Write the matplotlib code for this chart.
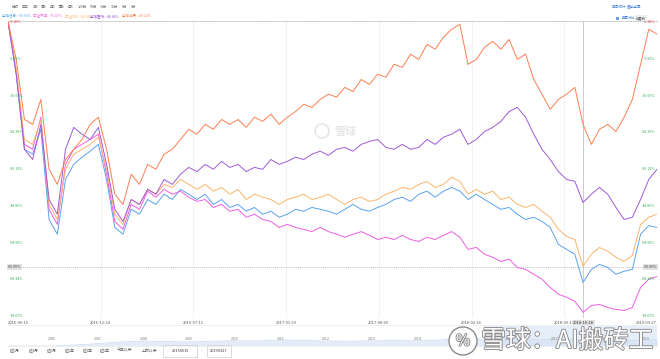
import numpy as np
import matplotlib
matplotlib.use("Agg")
import matplotlib.pyplot as plt
import matplotlib.patheffects as pe
from matplotlib.patches import Circle, Ellipse, Rectangle
from matplotlib.lines import Line2D

plt.rcParams['font.family'] = ['Noto Sans CJK SC', 'DejaVu Sans']

# --- data (cumulative change, %), ~weekly samples ---
names = ["全指信息", "中证传媒", "中证500", "全指医药", "全指消费"]
legend_vals = ["-69.93%", "-76.07%", "-64.44%", "-48.88%", "-28.22%"]
colors = ["#5aa2ee", "#ee5ee2", "#fcb46c", "#a05ad6", "#fc7e52"]

info = [0.0, -14.0, -33.9, -35.2, -28.6, -52.5, -56.4, -41.9, -37.9, -36.0,
        -34.4, -32.6, -41.9, -54.6, -56.4, -49.8, -51.1, -47.2, -48.5, -45.8,
        -47.2, -44.5, -45.8, -47.2, -45.8, -48.5, -47.2, -49.3, -48.5, -50.3,
        -49.3, -51.1, -50.3, -51.9, -51.1, -49.8, -50.3, -49.3, -49.8, -50.3,
        -51.1, -49.8, -48.5, -49.8, -50.3, -49.3, -48.5, -47.2, -46.6, -47.7,
        -45.8, -45.0, -46.6, -45.0, -44.0, -45.0, -47.2, -45.8, -47.2, -48.5,
        -49.8, -49.3, -51.1, -52.5, -51.9, -53.0, -54.6, -59.1, -60.4, -61.7,
        -69.2, -65.7, -64.4, -65.2, -67.0, -66.2, -65.7, -56.4, -54.1, -54.6]
media = [0.0, -13.3, -32.6, -33.9, -25.4, -49.8, -53.8, -37.9, -33.9, -32.6,
         -31.3, -29.9, -40.5, -53.0, -55.1, -48.5, -49.8, -45.0, -46.6, -44.5,
         -45.8, -45.0, -46.6, -47.7, -47.2, -49.3, -48.5, -50.3, -49.8, -51.9,
         -51.1, -52.5, -53.0, -54.6, -53.8, -54.6, -55.1, -55.7, -54.6, -55.7,
         -56.4, -57.2, -56.4, -55.7, -56.7, -57.8, -57.2, -57.8, -56.7, -57.8,
         -58.3, -57.2, -57.8, -56.7, -55.7, -57.2, -60.4, -59.9, -61.7, -62.5,
         -63.6, -63.0, -65.2, -65.7, -67.0, -68.3, -70.5, -72.3, -73.1, -74.2,
         -77.1, -75.3, -75.0, -75.8, -76.3, -76.6, -75.8, -70.5, -68.3, -67.6]
csi500 = [0.0, -12.7, -31.3, -32.6, -26.0, -48.5, -52.5, -39.2, -35.2, -33.9,
          -32.6, -30.7, -39.2, -51.1, -53.8, -47.2, -48.5, -44.5, -45.8, -43.2,
          -44.0, -41.9, -43.2, -44.5, -43.2, -45.0, -44.0, -45.8, -44.5, -47.2,
          -45.8, -46.6, -47.2, -48.5, -47.2, -46.6, -45.8, -47.2, -46.6, -45.8,
          -47.2, -48.5, -47.2, -46.6, -47.7, -47.2, -45.8, -45.0, -44.0, -44.5,
          -43.2, -42.4, -44.0, -43.2, -41.3, -42.4, -45.8, -44.5, -45.8, -45.0,
          -47.2, -46.6, -48.5, -49.3, -48.5, -50.3, -51.9, -55.1, -57.0, -57.8,
          -64.9, -61.7, -59.9, -60.9, -62.5, -63.6, -62.0, -53.8, -51.9, -51.1]
medic = [0.0, -14.0, -33.9, -36.6, -27.3, -47.2, -51.1, -33.9, -28.1, -29.9,
         -31.3, -28.1, -37.9, -49.8, -53.0, -47.2, -48.5, -44.5, -45.8, -41.9,
         -43.2, -40.5, -38.7, -39.8, -37.9, -39.2, -37.1, -38.7, -37.9, -39.8,
         -38.7, -39.2, -36.6, -37.9, -37.1, -36.0, -36.6, -35.2, -34.4, -35.5,
         -33.9, -33.4, -34.4, -32.6, -31.8, -31.3, -33.4, -33.9, -32.6, -33.9,
         -33.4, -31.3, -32.6, -30.7, -29.9, -28.6, -32.6, -31.3, -29.2, -28.1,
         -26.5, -23.9, -22.8, -25.4, -29.9, -33.9, -36.6, -39.8, -41.9, -42.4,
         -48.0, -45.8, -44.0, -45.8, -49.3, -52.5, -51.9, -47.2, -41.9, -39.2]
consum = [0.0, -10.1, -26.0, -27.3, -20.7, -39.2, -43.2, -36.6, -33.9, -31.3,
          -27.3, -25.4, -33.9, -45.8, -48.5, -40.5, -43.2, -37.9, -39.2, -35.2,
          -33.9, -31.3, -28.6, -29.9, -27.3, -28.6, -26.0, -27.3, -26.0, -28.1,
          -25.4, -26.5, -24.6, -27.3, -25.4, -23.9, -22.0, -22.8, -20.7, -19.3,
          -20.1, -17.5, -18.6, -15.4, -16.7, -14.0, -14.8, -11.4, -12.2, -8.7,
          -10.1, -6.1, -7.4, -4.2, -2.1, -0.8, -11.4, -10.1, -6.9, -5.3,
          -7.4, -4.8, -10.1, -8.7, -15.4, -19.3, -23.3, -20.7, -19.3, -17.5,
          -27.3, -32.6, -28.6, -27.3, -29.2, -25.4, -20.7, -11.4, -2.1, -3.4]
series = [info, media, csi500, medic, consum]

date_labels = ["2015-06-15", "2015-12-24", "2016-07-11", "2017-01-23",
               "2017-08-09", "2018-02-26", "2018-09-12", "2019-03-27"]
ytick_labels = ["-0.18%", "-9.92%", "-19.65%", "-29.39%", "-39.13%",
                "-48.86%", "-58.60%", "-68.34%", "-78.07%"]
ytick_vals = [-0.18, -9.92, -19.65, -29.39, -39.13, -48.86, -58.60, -68.34, -78.07]
cross_idx = 70
cross_val = -65.05
cross_date = "2018-10-18"

nav_years = [2005.0, 2005.5, 2006.0, 2006.5, 2007.0, 2007.5, 2008.0, 2008.5,
             2009.0, 2009.5, 2010.0, 2010.5, 2011.0, 2011.5, 2012.0, 2012.5,
             2013.0, 2013.5, 2014.0, 2014.5, 2015.0, 2015.5, 2016.0, 2016.5,
             2017.0, 2017.5, 2018.0, 2018.5, 2019.0, 2019.25]
nav_vals = [0.0, 0.0, 0.0, 0.05, 0.12, 0.2, 0.25, 0.22, 0.2, 0.24,
            0.26, 0.25, 0.3, 0.28, 0.25, 0.24, 0.26, 0.27, 0.26, 0.3,
            0.4, 0.33, 0.3, 0.31, 0.32, 0.3, 0.29, 0.27, 0.3, 0.32]
year_labels = list(range(2006, 2020))

top_tabs = ["分时", "五日", "日K", "周K", "月K", "季K", "年K",
            "120分", "60分", "30分", "15分", "5分", "1分"]
periods = ["近1月", "近3月", "近6月", "近1年", "近3年", "近5年", "今年以来", "上市以来"]
range_start, range_end = "20150615", "20190327"

# --- figure ---
W, H = 660, 359
fig = plt.figure(figsize=(6.6, 3.59), dpi=100)


def fx(px):
    return px / W


def fy(py):
    return 1 - py / H


ax = fig.add_axes([fx(8), fy(318), fx(657) - fx(8), fy(21) - fy(318)])
x = np.arange(len(info))
for s, c in zip(series, colors):
    ax.plot(x, s, color=c, lw=0.7)
ax.set_xlim(0, len(info) - 1)
ax.set_ylim(-78.59, 0.085)
ax.set_xticks([])
ax.set_yticks([])
for sp in ["left", "right", "bottom"]:
    ax.spines[sp].set_visible(False)
ax.spines["top"].set_linestyle((0, (1, 1.5)))
ax.spines["top"].set_color("#bbbbbb")
ax.spines["top"].set_linewidth(0.6)

# vertical grid + date labels
n = len(info) - 1
tr_x = ax.get_xaxis_transform()
for k, lab in enumerate(date_labels):
    xp = k * n / 7
    if 0 < k < 7:
        ax.axvline(xp, color="#f0f0f0", lw=0.6, zorder=0)
    ha = "left" if k == 0 else ("right" if k == 7 else "center")
    ax.text(xp, -0.01, lab, transform=tr_x, ha=ha, va="top",
            fontsize=2.9, color="#555555")

# y labels both sides
tr_y = ax.get_yaxis_transform()
for v, lab in zip(ytick_vals, ytick_labels):
    col = "#e64545" if v == ytick_vals[0] else "#35a853"
    ax.text(0.003, v, lab, transform=tr_y, ha="left", va="center",
            fontsize=2.6, color=col)
    ax.text(0.997, v, lab, transform=tr_y, ha="right", va="center",
            fontsize=2.6, color=col)

# crosshair
ax.axvline(cross_idx, color="#cccccc", lw=0.7, zorder=1)
ax.axhline(cross_val, color="#aaaaaa", lw=0.6, ls=(0, (1, 1.5)), zorder=1)
box = dict(boxstyle="square,pad=0.25", fc="#e2e2e2", ec="none")
ax.text(0.0, cross_val, "-65.05%", transform=tr_y, ha="left", va="center",
        fontsize=2.6, color="#333333", bbox=box)
ax.text(1.0, cross_val, "-65.05%", transform=tr_y, ha="right", va="center",
        fontsize=2.6, color="#333333", bbox=box)
ax.text(cross_idx, -0.01, cross_date, transform=tr_x, ha="center", va="top",
        fontsize=2.9, color="#333333", bbox=box, zorder=5)

# faint center watermark
fig.text(fx(334), fy(131), "雪球", fontsize=8, color="#e6e6e6",
         ha="left", va="center", fontweight="bold")
fig.add_artist(Ellipse((fx(322), fy(131)), fx(14), 14 / H,
                       transform=fig.transFigure, fc="none", ec="#e6e6e6", lw=1.2))

# separator lines
fig.add_artist(Line2D([fx(8), fx(657)], [fy(325), fy(325)], color="#eeeeee", lw=0.6))
fig.add_artist(Line2D([fx(8), fx(657)], [fy(346), fy(346)], color="#eeeeee", lw=0.6))

# navigator
nav = fig.add_axes([fx(8), fy(346), fx(657) - fx(8), fy(326) - fy(346)])
nav.fill_between(nav_years, nav_vals, color="#e3ecf8", lw=0)
nav.plot(nav_years, nav_vals, color="#c8d8ef", lw=0.5)
nav.axvspan(2015.45, 2019.24, color="#d5e3f5", alpha=0.6, lw=0)
nav.set_xlim(2005.04, 2019.24)
nav.set_ylim(0, 1)
nav.axis("off")
for yr in year_labels:
    nav.text(yr, 0.35, str(yr), ha="center", va="center", fontsize=2.6,
             color="#777777")

# top tabs and legend
tab_x = [12, 22, 32, 41, 50, 59, 68, 78, 90, 100, 111, 122, 131]
for t, px in zip(top_tabs, tab_x):
    fig.text(fx(px), fy(7), t, fontsize=2.5, color="#666666", va="center")
leg_x = [2, 33, 65, 90, 122]
for nm, v, c, px in zip(names, legend_vals, colors, leg_x):
    fig.text(fx(px), fy(16), f"{nm}: {v}", fontsize=2.5, color=c, va="center")

fig.text(fx(612), fy(7), "区间统计", fontsize=2.6, color="#3f7fd8", va="center")
fig.text(fx(627), fy(7), "退出全屏", fontsize=2.6, color="#3f7fd8", va="center")
fig.add_artist(Rectangle((fx(616), fy(19.5)), fx(3), fy(16.5) - fy(19.5),
                         transform=fig.transFigure, fc="#6a9ee0", ec="none"))
fig.text(fx(622), fy(18), "股票对比", fontsize=2.4, color="#3f7fd8", va="center")
fig.text(fx(636), fy(18), "前复权", fontsize=2.4, color="#444444", va="center",
         bbox=dict(boxstyle="square,pad=0.2", fc="#eeeeee", ec="none"))

# bottom range buttons
per_x = [10, 29, 47, 65, 83, 100, 117, 142]
for p, px in zip(periods, per_x):
    fig.text(fx(px), fy(351), p, fontsize=2.8, color="#555555", va="center")
for (x0, x1), lab in zip([(163, 197), (207, 231)], [range_start, range_end]):
    fig.add_artist(Rectangle((fx(x0), fy(357)), fx(x1 - x0), fy(345) - fy(357),
                             transform=fig.transFigure, fc="white",
                             ec="#cccccc", lw=0.5))
    fig.text(fx((x0 + x1) / 2), fy(351), lab, fontsize=2.8, color="#333333",
             ha="center", va="center")
fig.text(fx(202), fy(351), "-", fontsize=2.8, color="#555555", ha="center", va="center")

# bottom-right watermark
stroke = [pe.withStroke(linewidth=1.3, foreground="#8a8a8a")]
fig.add_artist(Ellipse((fx(463), fy(341)), fx(28), 28 / H, transform=fig.transFigure,
                       fc="white", ec="#8a8a8a", lw=1.0, zorder=10))
fig.text(fx(463), fy(341), "%", fontsize=11, color="white", ha="center",
         va="center", path_effects=stroke, zorder=11)
fig.text(fx(481), fy(341), "雪球：AI搬砖工", fontsize=18, color="white",
         ha="left", va="center", path_effects=stroke, zorder=11)

fig.savefig("out.png", dpi=100)
